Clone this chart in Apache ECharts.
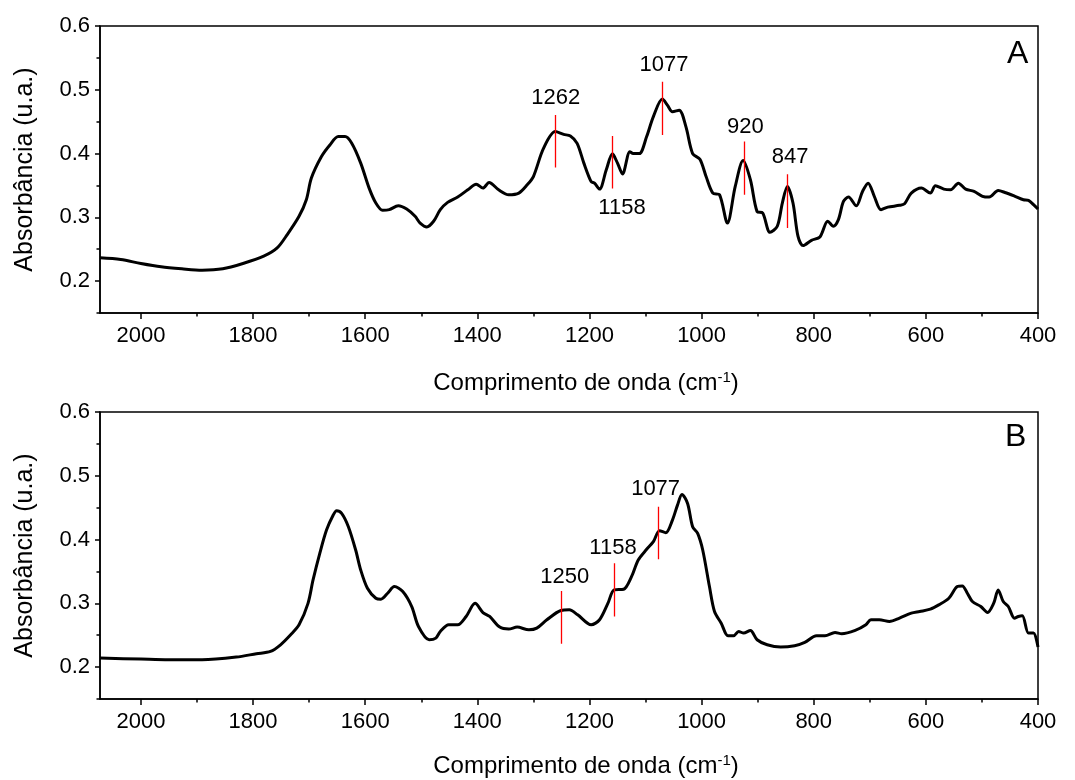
<!DOCTYPE html>
<html>
<head>
<meta charset="utf-8">
<script src="https://cdn.jsdelivr.net/npm/echarts@6/dist/echarts.min.js"></script>
<style>
html,body{margin:0;padding:0;background:#fff;}
#chart{width:1075px;height:780px;}
</style>
</head>
<body>
<div id="chart"></div>
<script>
// ---- Data ----
const waveA = [2073,2036,2000,1964,1927,1891,1854,1818,1781,1757,1739,1718,1705,1696,1678,1663,1648,1636,1624,1608,1593,1581,1569,1557,1541,1526,1511,1502,1490,1478,1466,1453,1435,1417,1402,1390,1379,1362,1344,1326,1311,1300,1282,1261,1246,1234,1222,1210,1197,1191,1182,1170,1159,1150,1141,1128,1122,1111,1098,1086,1070,1061,1052,1040,1028,1016,1003,992,980,968,954,940,926,913,901,891,878,865,856,847,837,828,819,804,789,775,765,756,747,738,724,713,703,692,680,668,647,638,626,608,592,583,568,556,542,529,514,499,487,471,459,441,426,417,408,400];
const absA = [0.2365,0.2339,0.2276,0.2224,0.2193,0.2172,0.2193,0.2276,0.239,0.252,0.273,0.3016,0.3276,0.3615,0.3953,0.4135,0.4266,0.4266,0.4161,0.385,0.3458,0.3224,0.311,0.312,0.3182,0.313,0.3016,0.291,0.2849,0.2938,0.312,0.3234,0.3318,0.3432,0.352,0.3458,0.3547,0.3432,0.3354,0.338,0.351,0.364,0.408,0.4344,0.430,0.4276,0.416,0.385,0.356,0.3536,0.3443,0.3745,0.3995,0.385,0.368,0.403,0.40,0.40,0.4266,0.458,0.4854,0.476,0.4656,0.468,0.4422,0.40,0.391,0.364,0.338,0.3354,0.291,0.3484,0.389,0.359,0.309,0.3068,0.2766,0.286,0.3224,0.3484,0.3224,0.270,0.2557,0.264,0.2693,0.2938,0.286,0.2964,0.325,0.3318,0.318,0.3406,0.3536,0.333,0.312,0.316,0.3188,0.3214,0.338,0.346,0.338,0.3495,0.3443,0.3432,0.3536,0.3443,0.3406,0.333,0.3318,0.342,0.339,0.333,0.3276,0.3266,0.32,0.313];

const waveB = [2073,2000,1951,1891,1830,1794,1769,1751,1733,1718,1702,1693,1681,1669,1657,1651,1642,1630,1617,1608,1596,1581,1572,1560,1548,1533,1517,1505,1486,1474,1466,1451,1435,1420,1404,1390,1378,1360,1344,1329,1308,1294,1276,1251,1236,1221,1197,1182,1167,1156,1139,1125,1113,1098,1086,1075,1064,1052,1043,1035,1025,1016,1007,998,986,977,965,953,943,934,925,913,901,883,859,834,816,795,780,762,750,726,707,698,683,665,647,626,611,592,577,559,544,535,526,517,502,490,479,471,462,453,442,435,428,417,408,400];
const absB = [0.2142,0.2126,0.2116,0.2116,0.2157,0.221,0.2246,0.235,0.2507,0.2663,0.3,0.3367,0.3784,0.4149,0.4384,0.4452,0.441,0.4201,0.3836,0.3523,0.3237,0.308,0.3065,0.3158,0.3263,0.3185,0.295,0.2637,0.2429,0.2455,0.2559,0.2663,0.2663,0.2794,0.3,0.2856,0.2794,0.2627,0.2596,0.2627,0.2585,0.2611,0.2742,0.2887,0.2898,0.282,0.2663,0.2742,0.3002,0.3211,0.3221,0.3419,0.368,0.3847,0.3967,0.4139,0.4107,0.4306,0.454,0.4707,0.4566,0.4201,0.4097,0.3836,0.3263,0.2872,0.2689,0.2491,0.2491,0.2559,0.2533,0.2575,0.2429,0.235,0.2314,0.2335,0.2387,0.2491,0.2491,0.2543,0.2522,0.2575,0.2663,0.2742,0.2742,0.2715,0.2768,0.2846,0.2872,0.2908,0.2976,0.308,0.3263,0.3273,0.3158,0.3028,0.295,0.2856,0.3002,0.3211,0.3028,0.295,0.2768,0.2794,0.2804,0.2533,0.2533,0.2314];

// Peak markers (wavenumber of red line, top and bottom absorbance of the line)
const peakNamesA = ['1262','1158','1077','920','847'];
const peakWaveA  = [1261,1159,1070,924,847];
const peakTopA   = [0.4604,0.4276,0.5125,0.4188,0.3677];
const peakBotA   = [0.3781,0.3453,0.4292,0.3354,0.2833];
const labelWaveA = [1260,1142,1067,922,842];
const labelAbsA  = [0.4865,0.3151,0.5385,0.4422,0.3953];

const peakNamesB = ['1250','1158','1077'];
const peakWaveB  = [1250,1155,1077];
const peakTopB   = [0.3195,0.3628,0.4514];
const peakBotB   = [0.2366,0.2794,0.369];
const labelWaveB = [1244,1158,1082];
const labelAbsB  = [0.3414,0.3868,0.479];

const xMajor = [400,600,800,1000,1200,1400,1600,1800,2000];
const xMinor = [500,700,900,1100,1300,1500,1700,1900];
const yMajor = [0.2,0.3,0.4,0.5,0.6];
const yMinor = [0.15,0.25,0.35,0.45,0.55];
const xTitle = 'Comprimento de onda (cm{sup|-1})';
const yTitle = 'Absorbância (u.a.)';
const panelLetters = ['A','B'];

// ---- Build chart ----
const FONT = '"Liberation Sans", Arial, sans-serif';
const X_MIN = 400, X_MAX = 2073, Y_MIN = 0.15, Y_MAX = 0.6;
const grids = [
  {left:100, top:26, width:938, height:287},
  {left:100, top:412, width:938, height:287}
];
const nameGapsX = [57, 54];

const xAxes = [], yAxes = [];
grids.forEach((g, gi) => {
  xAxes.push({
    gridIndex: gi, type:'value', min:X_MIN, max:X_MAX, inverse:true, position:'bottom',
    axisLine:{show:true, onZero:false, lineStyle:{color:'#000', width:1.5}},
    axisTick:{show:true, length:6, customValues:xMajor, lineStyle:{color:'#000', width:1.5}},
    axisLabel:{customValues:xMajor, formatter:v=>String(v), fontSize:22, color:'#000', fontFamily:FONT, margin:12},
    splitLine:{show:false},
    name: xTitle, nameLocation:'middle', nameGap:nameGapsX[gi],
    nameTextStyle:{fontSize:24, color:'#000', fontFamily:FONT, padding:[0,0,0,34], lineHeight:26,
      rich:{sup:{fontSize:15, color:'#000', fontFamily:FONT, verticalAlign:'top', lineHeight:12}}}
  });
  xAxes.push({
    gridIndex: gi, type:'value', min:X_MIN, max:X_MAX, inverse:true, position:'bottom', offset:0,
    axisLine:{show:false},
    axisTick:{show:true, length:3.5, customValues:xMinor, lineStyle:{color:'#000', width:1.5}},
    axisLabel:{show:false}, splitLine:{show:false}
  });
  yAxes.push({
    gridIndex: gi, type:'value', min:Y_MIN, max:Y_MAX, position:'left',
    axisLine:{show:true, onZero:false, lineStyle:{color:'#000', width:1.5}},
    axisTick:{show:true, length:5, customValues:yMajor, lineStyle:{color:'#000', width:1.5}},
    axisLabel:{customValues:yMajor, formatter:v=>v.toFixed(1), fontSize:22, color:'#000', fontFamily:FONT, margin:10},
    splitLine:{show:false},
    name: yTitle, nameLocation:'middle', nameGap:62,
    nameTextStyle:{fontSize:25, color:'#000', fontFamily:FONT}
  });
  yAxes.push({
    gridIndex: gi, type:'value', min:Y_MIN, max:Y_MAX, position:'left', offset:0,
    axisLine:{show:false},
    axisTick:{show:true, length:3.5, customValues:yMinor, lineStyle:{color:'#000', width:1.5}},
    axisLabel:{show:false}, splitLine:{show:false}
  });
});

function pairs(xs, ys){ return xs.map((x,i)=>[x, ys[i]]); }

function panelSeries(gi, wave, abs, names, pw, pt, pb, lw, la){
  const xi = gi*2, yi = gi*2;
  return [
    {
      type:'line', xAxisIndex:xi, yAxisIndex:yi, data:pairs(wave, abs),
      showSymbol:false, smooth:0.3, lineStyle:{color:'#000', width:3}, z:3
    },
    {
      type:'lines', coordinateSystem:'cartesian2d', xAxisIndex:xi, yAxisIndex:yi,
      data: pw.map((w,i)=>({coords:[[w, pt[i]],[w, pb[i]]]})),
      lineStyle:{color:'#ff0000', width:1.3, opacity:1}, symbol:['none','none'], z:4
    },
    {
      type:'scatter', xAxisIndex:xi, yAxisIndex:yi, symbolSize:0,
      itemStyle:{color:'#000'},
      data: names.map((n,i)=>({name:n, value:[lw[i], la[i]]})),
      label:{show:true, position:'inside', formatter:'{b}', fontSize:22, color:'#000',
        fontFamily:FONT, textBorderWidth:0, opacity:1},
      z:5
    }
  ];
}

const series = [
  ...panelSeries(0, waveA, absA, peakNamesA, peakWaveA, peakTopA, peakBotA, labelWaveA, labelAbsA),
  ...panelSeries(1, waveB, absB, peakNamesB, peakWaveB, peakTopB, peakBotB, labelWaveB, labelAbsB)
];

const chart = echarts.init(document.getElementById('chart'), null, {renderer:'canvas'});
chart.setOption({
  animation:false,
  backgroundColor:'#fff',
  grid: grids.map(g => Object.assign({show:true, borderColor:'#000', borderWidth:1.5, backgroundColor:'transparent'}, g)),
  xAxis: xAxes,
  yAxis: yAxes,
  series: series,
  graphic: [
    {type:'text', left:1007, top:38, style:{text:panelLetters[0], fontSize:32, fill:'#000', fontFamily:FONT}},
    {type:'text', left:1005, top:421, style:{text:panelLetters[1], fontSize:32, fill:'#000', fontFamily:FONT}}
  ]
});
</script>
</body>
</html>
